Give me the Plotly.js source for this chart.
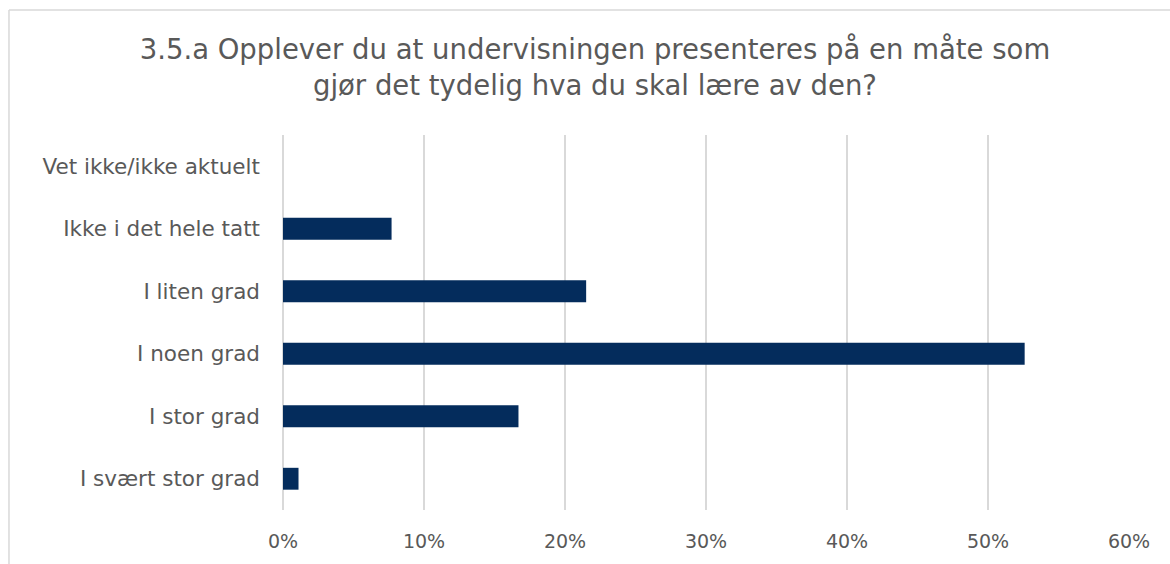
<!DOCTYPE html>
<html>
<head>
<meta charset="utf-8">
<script src="https://cdn.plot.ly/plotly-3.0.1.min.js"></script>
<style>
html,body{margin:0;padding:0;background:#fff;}
#chart{width:1170px;height:564px;}
</style>
</head>
<body>
<div id="chart"></div>
<script>
var categories = ["Vet ikke/ikke aktuelt", "Ikke i det hele tatt", "I liten grad", "I noen grad", "I stor grad", "I svært stor grad"];
var values = [0, 0.077, 0.215, 0.526, 0.167, 0.011];
var tickVals = [0, 0.1, 0.2, 0.3, 0.4, 0.5, 0.6];
var tickText = ["0%", "10%", "20%", "30%", "40%", "50%", "60%"];
var titleText = "3.5.a Opplever du at undervisningen presenteres på en måte som<br>gjør det tydelig hva du skal lære av den?";

var fontFam = "DejaVu Sans, sans-serif";
var textCol = "#595959";

var trace = {
  type: "bar",
  orientation: "h",
  x: values,
  y: categories,
  marker: {color: "#042C5C"},
  width: 0.35,
  hoverinfo: "x+y"
};

var layout = {
  width: 1170,
  height: 564,
  margin: {l: 283, r: 41, t: 135, b: 54},
  paper_bgcolor: "#ffffff",
  plot_bgcolor: "#ffffff",
  showlegend: false,
  font: {family: fontFam, color: textCol},
  title: {
    text: titleText,
    font: {family: fontFam, size: 27.5, color: textCol},
    x: 0.5085, xanchor: "center",
    y: 0.895, yanchor: "top",
    xref: "container", yref: "container"
  },
  xaxis: {
    range: [0, 0.6],
    tickvals: tickVals,
    ticktext: tickText,
    showgrid: true,
    gridcolor: "#d9d9d9",
    gridwidth: 1.5,
    zeroline: true,
    zerolinecolor: "#d9d9d9",
    zerolinewidth: 1.5,
    showline: false,
    ticks: "",
    ticklabelstandoff: 18,
    tickfont: {family: fontFam, size: 19, color: textCol},
    fixedrange: true
  },
  yaxis: {
    type: "category",
    autorange: "reversed",
    showgrid: false,
    zeroline: false,
    showline: false,
    ticks: "",
    ticklabelstandoff: 22,
    tickfont: {family: fontFam, size: 21.5, color: textCol},
    fixedrange: true
  },
  shapes: [
    {type: "line", xref: "paper", yref: "paper", x0: -0.3239, x1: -0.3239, y0: -0.2, y1: 1.3333, line: {color: "#d9d9d9", width: 1.5}},
    {type: "line", xref: "paper", yref: "paper", x0: -0.3239, x1: 1.2, y0: 1.3333, y1: 1.3333, line: {color: "#d9d9d9", width: 1.5}}
  ]
};

Plotly.newPlot("chart", [trace], layout, {displayModeBar: false, staticPlot: true});
</script>
</body>
</html>
